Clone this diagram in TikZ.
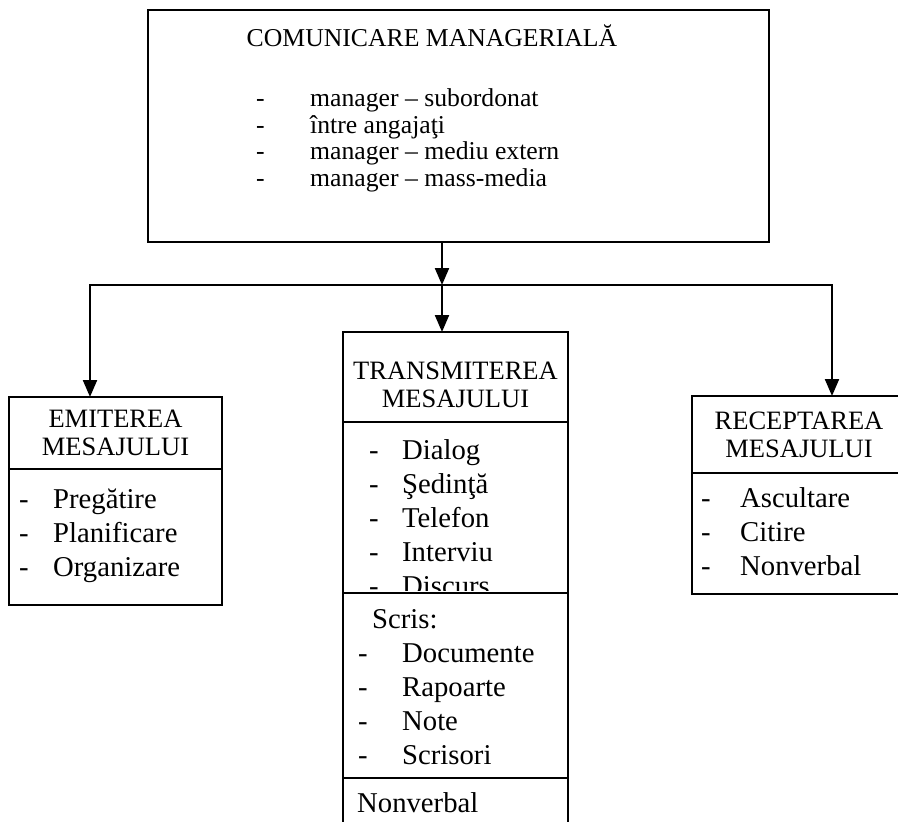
\documentclass[tikz,border=0pt]{standalone}
\usepackage{fontspec}
\setmainfont{Liberation Serif}
\usetikzlibrary{positioning,calc}
\usetikzlibrary{arrows.meta}
\tikzset{
  box/.style={draw=black,line width=1.6pt,inner sep=0pt,outer sep=0pt},
  conn/.style={draw=black,line width=2.2pt},
  arr/.style={conn,-{Triangle[length=17pt,width=14pt]}},
  head/.style={box,align=center,font=\fontsize{26.5}{28}\selectfont},
  items/.style={anchor=north west,inner sep=0pt,align=left,font=\fontsize{28.7}{34}\selectfont},
}
\newcommand{\itm}[2]{\strut\makebox[#1][l]{-}#2}

\begin{document}
\begin{tikzpicture}[x=1pt,y=-1pt]
\useasboundingbox (0,0) rectangle (898,822);
% top box
\node[box,minimum width=621,minimum height=232] (top) at (458.5,126) {};
\node[font=\fontsize{25.7}{26}\selectfont] (topTitle) at (432,36) {COMUNICARE MANAGERIALĂ};
\node[items,font=\fontsize{25.7}{26.5}\selectfont] (topList) at (256,88) {\itm{54pt}{manager – subordonat}\\
  \itm{54pt}{între angajaţi}\\
  \itm{54pt}{manager – mediu extern}\\
  \itm{54pt}{manager – mass-media}};
% emitere
\node[head,minimum width=213,minimum height=72] (emitHead) at (115.5,433) {EMITEREA\\MESAJULUI};
\node[box,minimum width=213,minimum height=136,below=0pt of emitHead] (emitBody) {};
\node[items] (emitList) at (19,484) {\itm{34pt}{Pregătire}\\
  \itm{34pt}{Planificare}\\
  \itm{34pt}{Organizare}};
% transmitere
\node[box,minimum width=225,minimum height=90] (trHead) at (455.5,377) {};
\node[head,draw=none] (trTitle) at (455.5,385) {TRANSMITEREA\\MESAJULUI};
\node[box,minimum width=225,minimum height=171,below=0pt of trHead] (trMid) {};
\node[box,minimum width=225,minimum height=185,below=0pt of trMid] (trLow) {};
\node[box,minimum width=225,minimum height=60,below=0pt of trLow] (trEnd) {};
\begin{scope}
\clip (trMid.north west) rectangle ($(trMid.south east)+(0,-3)$);
\node[items] (trList) at (369,435) {\itm{33pt}{Dialog}\\
  \itm{33pt}{Şedinţă}\\
  \itm{33pt}{Telefon}\\
  \itm{33pt}{Interviu}\\
  \itm{33pt}{Discurs}};
\end{scope}
\node[items] (scrisList) at (358,604) {\strut\hspace*{14pt}Scris:\\
  \itm{44pt}{Documente}\\
  \itm{44pt}{Rapoarte}\\
  \itm{44pt}{Note}\\
  \itm{44pt}{Scrisori}};
\node[items] (nonv) at (357,788) {\strut Nonverbal};
% receptare
\node[head,minimum width=214,minimum height=77] (recHead) at (799,434.5) {RECEPTAREA\\MESAJULUI};
\node[box,minimum width=214,minimum height=121,below=0pt of recHead] (recBody) {};
\node[items] (recList) at (701,483) {\itm{39pt}{Ascultare}\\
  \itm{39pt}{Citire}\\
  \itm{39pt}{Nonverbal}};
% connectors
\coordinate (hub) at (442,285);
\coordinate (bl) at (90,285);
\coordinate (br) at (832,285);
\draw[arr] (top.south -| hub) -- (hub);
\draw[arr] (hub) -- (hub |- trHead.north);
\draw[arr] (hub) -| (bl |- emitHead.north);
\draw[arr] (hub) -| (br |- recHead.north);
\end{tikzpicture}
\end{document}
